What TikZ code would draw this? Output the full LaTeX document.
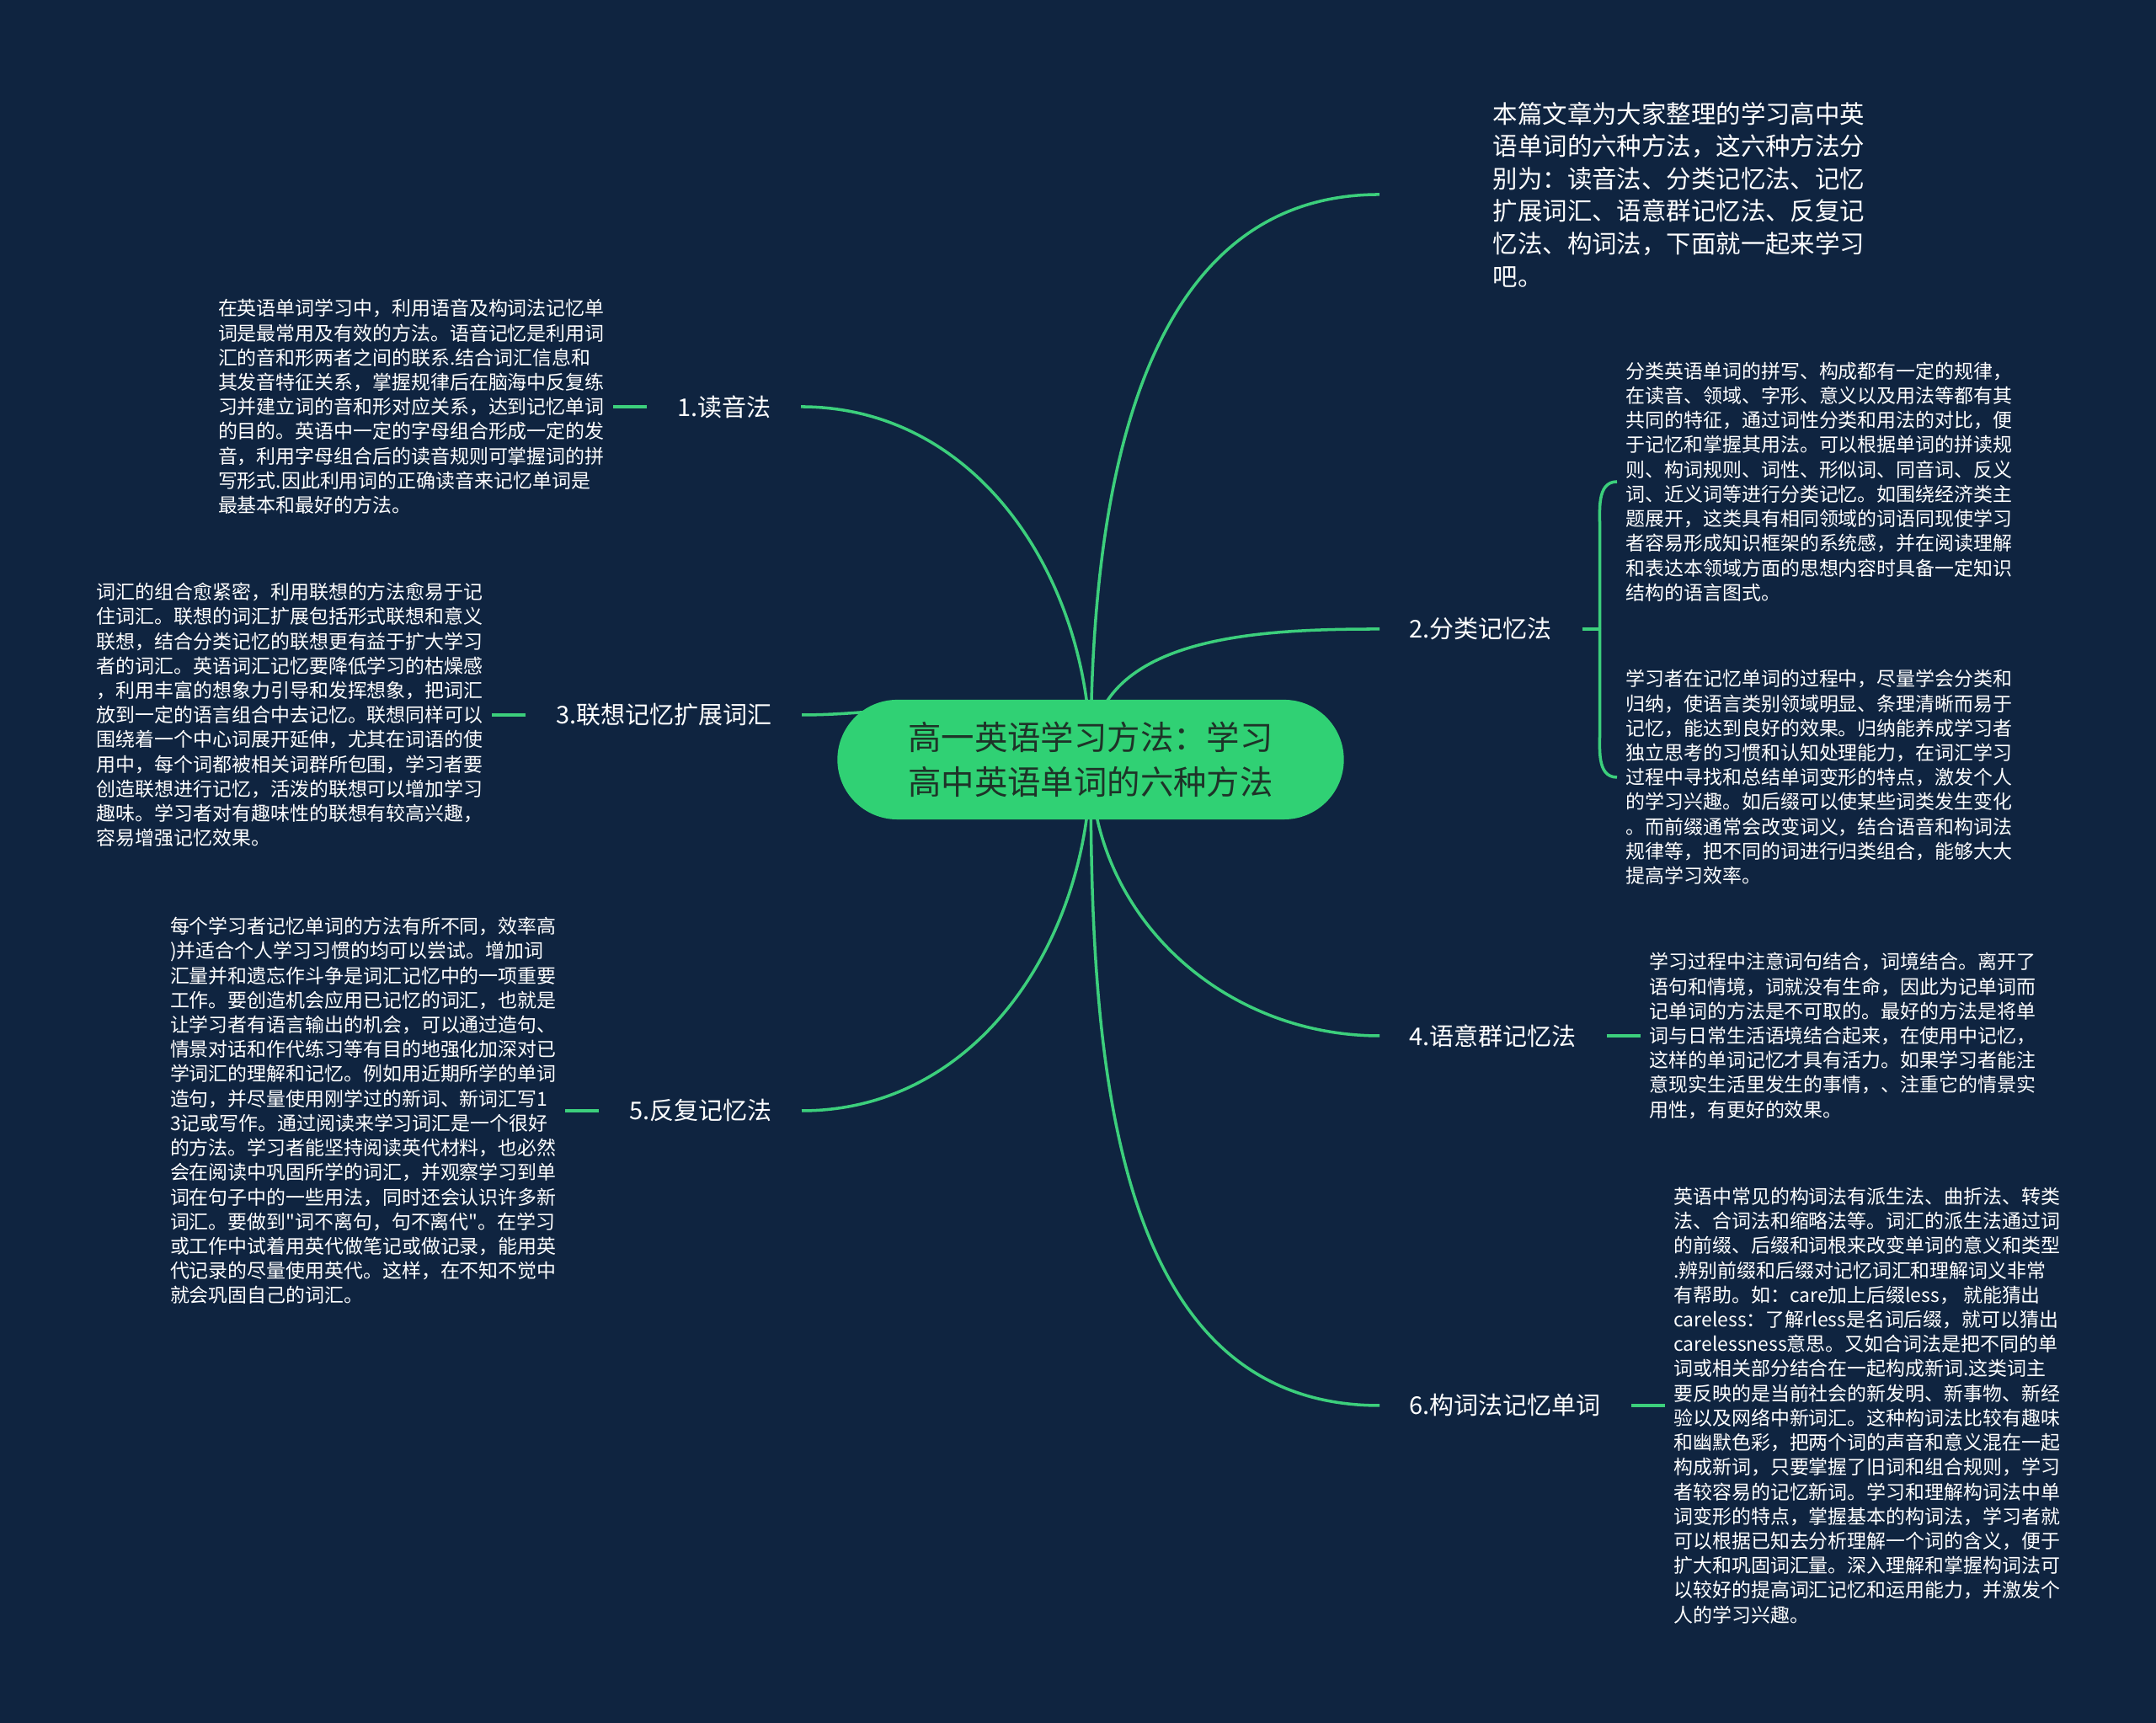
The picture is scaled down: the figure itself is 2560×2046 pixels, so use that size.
\documentclass[tikz,border=0pt]{standalone}
\usepackage{fontspec}
\setmainfont{Noto Sans CJK SC}[Ligatures=TeXOff]
\usetikzlibrary{positioning,calc}

\definecolor{bgnavy}{HTML}{0F2440}
\definecolor{rootgreen}{HTML}{30D174}
\definecolor{rootink}{HTML}{1E3328}
\definecolor{linkgreen}{HTML}{3CCF7C}

\pgfdeclarelayer{canvas}
\pgfdeclarelayer{links}
\pgfsetlayers{canvas,links,main}

\begin{document}
\begin{tikzpicture}[
  x=0.01cm, y=0.01cm,
  node distance=0.4cm,
  every node/.style={text=white},
  root/.style={fill=rootgreen, text=rootink, rounded corners=0.71cm, minimum width=6.01cm, minimum height=1.42cm, align=center, font=\fontsize{11.2}{15.1}\selectfont},
  branch/.style={font=\fontsize{8.25}{10}\selectfont, inner xsep=0.35cm, inner ysep=0.1cm},
  note/.style={font=\fontsize{6.52}{8.31}\selectfont, align=left, inner xsep=0.1cm, inner ysep=0.05cm},
  intro/.style={font=\fontsize{8.37}{10.98}\selectfont, align=left, inner xsep=0.1cm, inner ysep=0.05cm},
  link/.style={draw=linkgreen, line width=1pt}
]
\begin{pgfonlayer}{canvas}
\fill[bgnavy] (0,0) rectangle (2560,2046);
\end{pgfonlayer}
\useasboundingbox (0,0) rectangle (2560,2046);

\node[root] (root) at (1295,1144) {高一英语学习方法：学习\\高中英语单词的六种方法};

% right side
\node[intro, anchor=west] (intro) at (1762,1815) {本篇文章为大家整理的学习高中英\\语单词的六种方法，这六种方法分\\别为：读音法、分类记忆法、记忆\\扩展词汇、语意群记忆法、反复记\\忆法、构词法，下面就一起来学习\\吧。};
\coordinate[left=1.24cm of intro] (introin);

\node[branch, anchor=west] (b2) at (1638,1299) {2.分类记忆法};
\coordinate[right=0.21cm of b2] (j2);
\node[note, anchor=west] (t2a) at (1920,1474) {分类英语单词的拼写、构成都有一定的规律，\\在读音、领域、字形、意义以及用法等都有其\\共同的特征，通过词性分类和用法的对比，便\\于记忆和掌握其用法。可以根据单词的拼读规\\则、构词规则、词性、形似词、同音词、反义\\词、近义词等进行分类记忆。如围绕经济类主\\题展开，这类具有相同领域的词语同现使学习\\者容易形成知识框架的系统感，并在阅读理解\\和表达本领域方面的思想内容时具备一定知识\\结构的语言图式。};
\node[note, anchor=west] (t2b) at (1920,1123) {学习者在记忆单词的过程中，尽量学会分类和\\归纳，使语言类别领域明显、条理清晰而易于\\记忆，能达到良好的效果。归纳能养成学习者\\独立思考的习惯和认知处理能力，在词汇学习\\过程中寻找和总结单词变形的特点，激发个人\\的学习兴趣。如后缀可以使某些词类发生变化\\。而前缀通常会改变词义，结合语音和构词法\\规律等，把不同的词进行归类组合，能够大大\\提高学习效率。};

\node[branch, anchor=west] (b4) at (1638,816) {4.语意群记忆法};
\node[note, right=of b4] (t4) {学习过程中注意词句结合，词境结合。离开了\\语句和情境，词就没有生命，因此为记单词而\\记单词的方法是不可取的。最好的方法是将单\\词与日常生活语境结合起来，在使用中记忆，\\这样的单词记忆才具有活力。如果学习者能注\\意现实生活里发生的事情，、注重它的情景实\\用性，有更好的效果。};

\node[branch, anchor=west] (b6) at (1638,377) {6.构词法记忆单词};
\node[note, right=of b6] (t6) {英语中常见的构词法有派生法、曲折法、转类\\法、合词法和缩略法等。词汇的派生法通过词\\的前缀、后缀和词根来改变单词的意义和类型\\.辨别前缀和后缀对记忆词汇和理解词义非常\\有帮助。如：care加上后缀less， 就能猜出\\careless：了解rless是名词后缀，就可以猜出\\carelessness意思。又如合词法是把不同的单\\词或相关部分结合在一起构成新词.这类词主\\要反映的是当前社会的新发明、新事物、新经\\验以及网络中新词汇。这种构词法比较有趣味\\和幽默色彩，把两个词的声音和意义混在一起\\构成新词，只要掌握了旧词和组合规则，学习\\者较容易的记忆新词。学习和理解构词法中单\\词变形的特点，掌握基本的构词法，学习者就\\可以根据已知去分析理解一个词的含义，便于\\扩大和巩固词汇量。深入理解和掌握构词法可\\以较好的提高词汇记忆和运用能力，并激发个\\人的学习兴趣。};

% left side
\node[branch, anchor=east] (b1) at (951,1563) {1.读音法};
\node[note, left=of b1] (t1) {在英语单词学习中，利用语音及构词法记忆单\\词是最常用及有效的方法。语音记忆是利用词\\汇的音和形两者之间的联系.结合词汇信息和\\其发音特征关系，掌握规律后在脑海中反复练\\习并建立词的音和形对应关系，达到记忆单词\\的目的。英语中一定的字母组合形成一定的发\\音，利用字母组合后的读音规则可掌握词的拼\\写形式.因此利用词的正确读音来记忆单词是\\最基本和最好的方法。};

\node[branch, anchor=east] (b3) at (952,1197) {3.联想记忆扩展词汇};
\node[note, left=of b3] (t3) {词汇的组合愈紧密，利用联想的方法愈易于记\\住词汇。联想的词汇扩展包括形式联想和意义\\联想，结合分类记忆的联想更有益于扩大学习\\者的词汇。英语词汇记忆要降低学习的枯燥感\\，利用丰富的想象力引导和发挥想象，把词汇\\放到一定的语言组合中去记忆。联想同样可以\\围绕着一个中心词展开延伸，尤其在词语的使\\用中，每个词都被相关词群所包围，学习者要\\创造联想进行记忆，活泼的联想可以增加学习\\趣味。学习者对有趣味性的联想有较高兴趣，\\容易增强记忆效果。};

\node[branch, anchor=east] (b5) at (952,727) {5.反复记忆法};
\node[note, left=of b5] (t5) {每个学习者记忆单词的方法有所不同，效率高\\)并适合个人学习习惯的均可以尝试。增加词\\汇量并和遗忘作斗争是词汇记忆中的一项重要\\工作。要创造机会应用已记忆的词汇，也就是\\让学习者有语言输出的机会，可以通过造句、\\情景对话和作代练习等有目的地强化加深对已\\学词汇的理解和记忆。例如用近期所学的单词\\造句，并尽量使用刚学过的新词、新词汇写1\\3记或写作。通过阅读来学习词汇是一个很好\\的方法。学习者能坚持阅读英代材料，也必然\\会在阅读中巩固所学的词汇，并观察学习到单\\词在句子中的一些用法，同时还会认识许多新\\词汇。要做到"词不离句，句不离代"。在学习\\或工作中试着用英代做笔记或做记录，能用英\\代记录的尽量使用英代。这样，在不知不觉中\\就会巩固自己的词汇。};

\begin{pgfonlayer}{links}
\draw[link] (root.center) to[out=90,in=180] (introin);
\draw[link] (root.center) to[out=90,in=180] (b2.west);
\draw[link] (root.center) to[out=-90,in=180] (b4.west);
\draw[link] (root.center) to[out=-90,in=180] (b6.west);
\draw[link] (root.center) to[out=90,in=0] (b1.east);
\draw[link] (root.center) to[out=135,in=0] (b3.east);
\draw[link] (root.center) to[out=-90,in=0] (b5.east);

\draw[link] (b1) -- (t1);
\draw[link] (b3) -- (t3);
\draw[link] (b5) -- (t5);
\draw[link] (b4) -- (t4);
\draw[link] (b6) -- (t6);
\draw[link] (b2) -- (j2);
\draw[link] (j2) -- ($(j2 |- t2a.west)+(0,-60)$) to[out=90,in=180] (t2a.west);
\draw[link] (j2) -- ($(j2 |- t2b.west)+(0,60)$) to[out=-90,in=180] (t2b.west);
\end{pgfonlayer}
\end{tikzpicture}
\end{document}
